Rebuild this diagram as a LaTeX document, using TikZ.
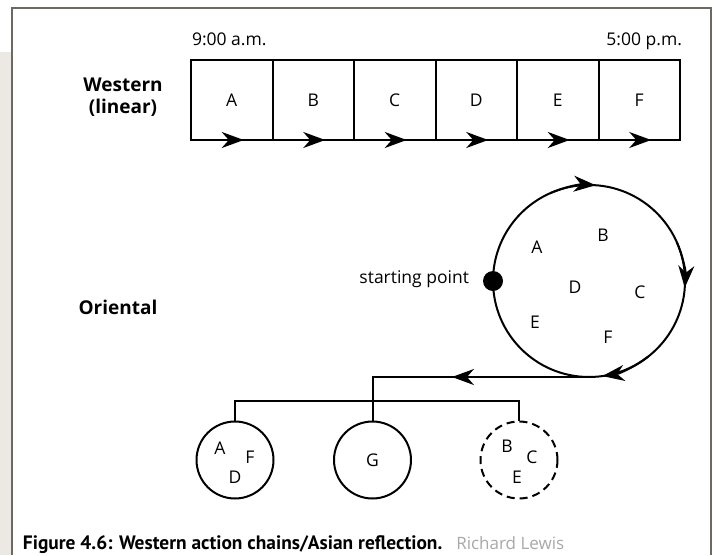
\documentclass[tikz,border=0pt]{standalone}
\usepackage{fontspec}
\setmainfont{Open Sans}
\newfontfamily\capfont{PT Sans}
\usetikzlibrary{arrows.meta, positioning, calc}
\tikzset{>={Stealth[length=22pt,width=16pt,inset=7pt]}}
\definecolor{framegray}{HTML}{6E6863}
\definecolor{stripgray}{HTML}{ECE9E5}
\definecolor{creditgray}{HTML}{A8A8A8}

\begin{document}
\begin{tikzpicture}[x=1pt, y=-1pt, line width=2pt,
    every node/.style={font=\fontsize{17.5}{20}\selectfont},
    slot/.style={draw, minimum width=81.5pt, minimum height=80pt, inner sep=0pt, outer sep=0pt},
    heading/.style={font=\fontsize{19}{22}\selectfont\bfseries, align=center},
    pool/.style={draw, circle, minimum size=77pt, inner sep=0pt}]
    \useasboundingbox (0,0) rectangle (713,555);
    % page margin and frame
    \fill[stripgray] (0,52) rectangle (11,555);
    \draw[framegray] (12,555) -- (12,8) -- (711,8) -- (711,555);

    % western: linear chain
    \node[heading] (west) at (123,97) {Western\\(linear)};
    \node[slot] (bA) at (231.75,100) {A};
    \foreach \l/\p in {B/A, C/B, D/C, E/D, F/E}
        \node[slot, right=0pt of b\p] (b\l) {\l};
    \foreach \l in {A, B, C, D, E, F}
        \draw[->] (b\l.south west) -- ([xshift=12pt]b\l.south);
    \node[anchor=base west, inner sep=0pt] (tstart) at ([yshift=15pt]bA.north west) {9:00 a.m.};
    \node[anchor=base east, inner sep=0pt] (tend) at ([xshift=3pt, yshift=15pt]bF.north east) {5:00 p.m.};

    % oriental: cycle
    \node[heading] (east) at (118,307) {Oriental};
    \node[draw, circle, minimum size=192pt, inner sep=0pt, outer sep=0pt] (cyc) at (589,281) {};
    \draw[->] (cyc.114) arc[start angle=114, end angle=86, radius=96pt];
    \draw[->] (cyc.24) arc[start angle=24, end angle=-4, radius=96pt];
    \draw[->] (cyc.-52) arc[start angle=-52, end angle=-82, radius=96pt];
    \node[circle, fill, minimum size=20pt, inner sep=0pt] (start) at (cyc.west) {};
    \node[left=12pt of start, yshift=2pt, inner sep=0pt] (startlbl) {starting point};
    \node (cA) at (537,247) {A};
    \node (cB) at (603,235) {B};
    \node (cD) at (575,287) {D};
    \node (cC) at (640,292) {C};
    \node (cE) at (535,322) {E};
    \node (cF) at (608,337) {F};

    % reflection: split into pools
    \node[pool] (pA) at (235,460) {};
    \node[pool] (pG) at (372.5,460) {G};
    \node[pool, dash pattern=on 8pt off 5pt] (pC) at (519,460) {};
    \node (pA1) at (220,448) {A};
    \node (pA2) at (250,457) {F};
    \node (pA3) at (235,477) {D};
    \node (pC1) at (507,446) {B};
    \node (pC2) at (532,457) {C};
    \node (pC3) at (517,477) {E};
    \coordinate (bend) at (pG.north |- cyc.south);
    \coordinate (fork) at ($(bend)!0.55!(pG.north)$);
    \draw (cyc.south) -- (bend) -- (pG.north);
    \draw[->] (cyc.south) -- ($(bend)!0.367!(cyc.south)$);
    \draw (pA.north) |- (fork) -| (pC.north);

    % caption
    \node[anchor=base west, inner sep=0pt] (cap) at (22,549)
        {\capfont\fontsize{19.4}{22}\selectfont\bfseries Figure 4.6: Western action chains/Asian reflection.\hspace{14pt}%
         \mdseries\rmfamily\fontsize{17}{20}\selectfont\color{creditgray}Richard Lewis};
\end{tikzpicture}
\end{document}
